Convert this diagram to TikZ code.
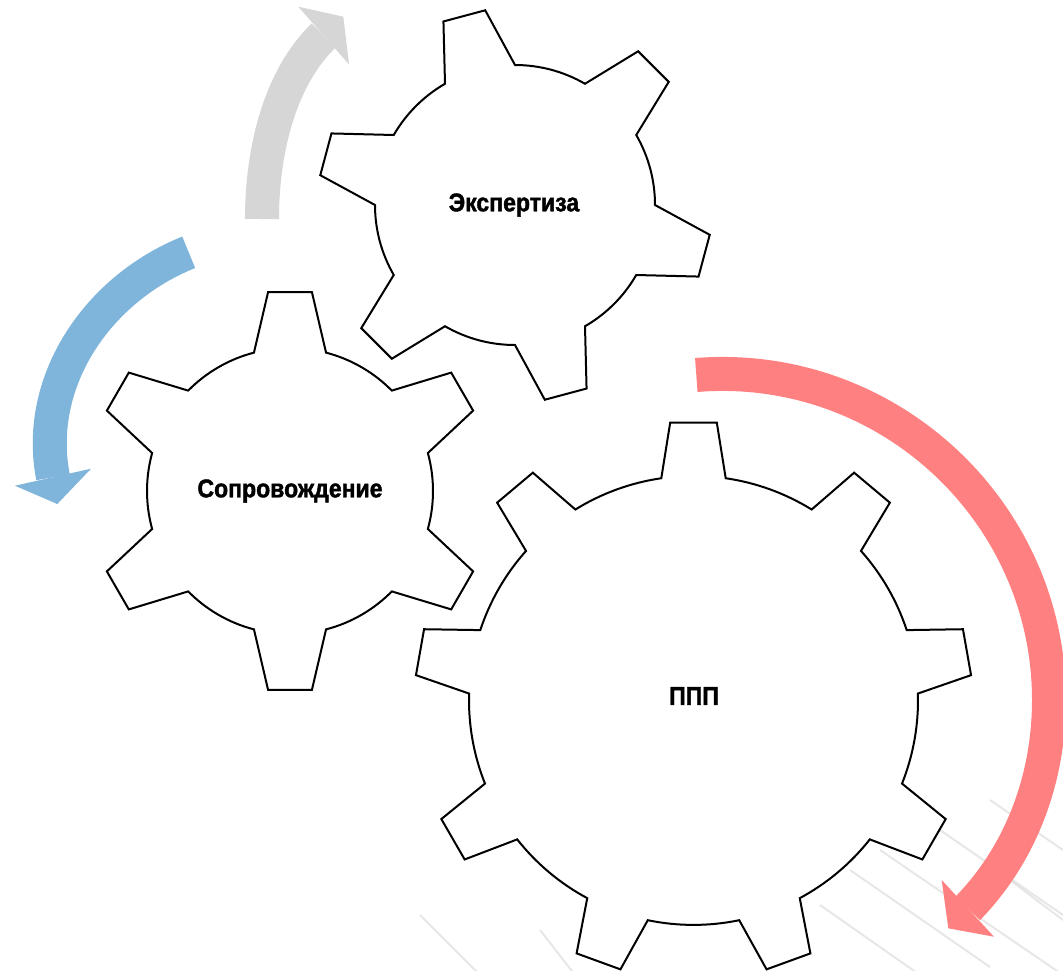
\documentclass[tikz,border=0pt]{standalone}
\usepackage{fontspec}
\newfontfamily\labfont{Liberation Sans}[FakeStretch=0.9, BoldFeatures={FakeBold=1.6}]
\definecolor{arrgray}{RGB}{214,214,214}
\definecolor{arrblue}{RGB}{127,181,219}
\definecolor{arrred}{RGB}{255,128,128}
\tikzset{
  gearline/.style={draw=black, line width=2pt, fill=white, line join=miter},
  lab/.style={font=\labfont\bfseries\fontsize{25.6}{30}\selectfont, inner sep=0pt, text=black},
  shaft/.style={line width=34pt, line cap=butt},
  streak/.style={draw=black!30, opacity=0.3, line width=2pt},
}
% #1 cx, #2 cy (image), #3 teeth, #4 first tooth angle, #5 root radius, #6 tip radius, #7 base half-angle, #8 tip half-angle
\newcommand{\gearoutline}[8]{%
  \path[gearline,shift={(#1,-#2)}] ({#4-#7}:#5)
    \foreach \k in {1,...,#3}{
      -- ({#4+(\k-1)*360/#3-#8}:#6)
      -- ({#4+(\k-1)*360/#3+#8}:#6)
      -- ({#4+(\k-1)*360/#3+#7}:#5)
      arc[start angle={#4+(\k-1)*360/#3+#7}, end angle={#4+\k*360/#3-#7}, radius=#5]
    } -- cycle;}
\begin{document}
\begin{tikzpicture}[x=1pt,y=1pt]
\useasboundingbox (0,0) rectangle (1063,-970);
\fill[white] (0,0) rectangle (1063,-970);
% faint background streaks
\begin{scope}
\clip (0,0) rectangle (1063,-970);
\draw[streak] (850,-870) -- (990,-967);
\draw[streak] (880,-850) -- (1063,-975);
\draw[streak] (940,-830) -- (1063,-915);
\draw[streak] (990,-800) -- (1063,-850);
\draw[streak] (820,-905) -- (920,-975);
\draw[streak] (1010,-880) -- (1063,-920);
\draw[streak] (420,-915) -- (480,-975);
\draw[streak] (540,-930) -- (575,-975);
\end{scope}
% arrows
\coordinate (gs) at (262,-219);
\coordinate (ge) at (323.7,-35.5);
\draw[shaft, arrgray] (gs) .. controls (262,-149) and (280.4,-77) .. (ge);
\fill[arrgray] (298.3,-6.7) -- (343.3,-16.7) -- (349,-64.3) -- cycle;
\coordinate (bs) at (188.7,-252.3);
\coordinate (be) at (53,-477.2);
\draw[shaft, arrblue] (bs) .. controls (97.9,-288.6) and (34.4,-381) .. (be);
\fill[arrblue] (15,-485.7) -- (57.3,-504) -- (91,-468.7) -- cycle;
\coordinate (rs) at (696.3,-375);
\coordinate (rm) at (1049,-700);
\coordinate (re) at (967.8,-908.3);
\draw[shaft, arrred] (rs) .. controls (885.7,-359.8) and (1049,-510) .. (rm)
  .. controls (1049,-777.4) and (1021.8,-852.9) .. (re);
\fill[arrred] (941.7,-880) -- (948.3,-928.3) -- (994,-936.7) -- cycle;
% gears
\gearoutline{290}{491}{6}{90}{143}{200}{14.6}{6.3}
\gearoutline{515}{205}{6}{105}{140}{197}{15}{6.3}
\gearoutline{693.5}{700.4}{9}{10}{224.5}{278.7}{8.25}{4.8}
% labels
\node[lab] (soprov) at (290,-491) {Сопровождение};
\node[lab] (expert) at (514,-205) {Экспертиза};
\node[lab] (ppp) at (694,-696) {ППП};
\end{tikzpicture}
\end{document}
